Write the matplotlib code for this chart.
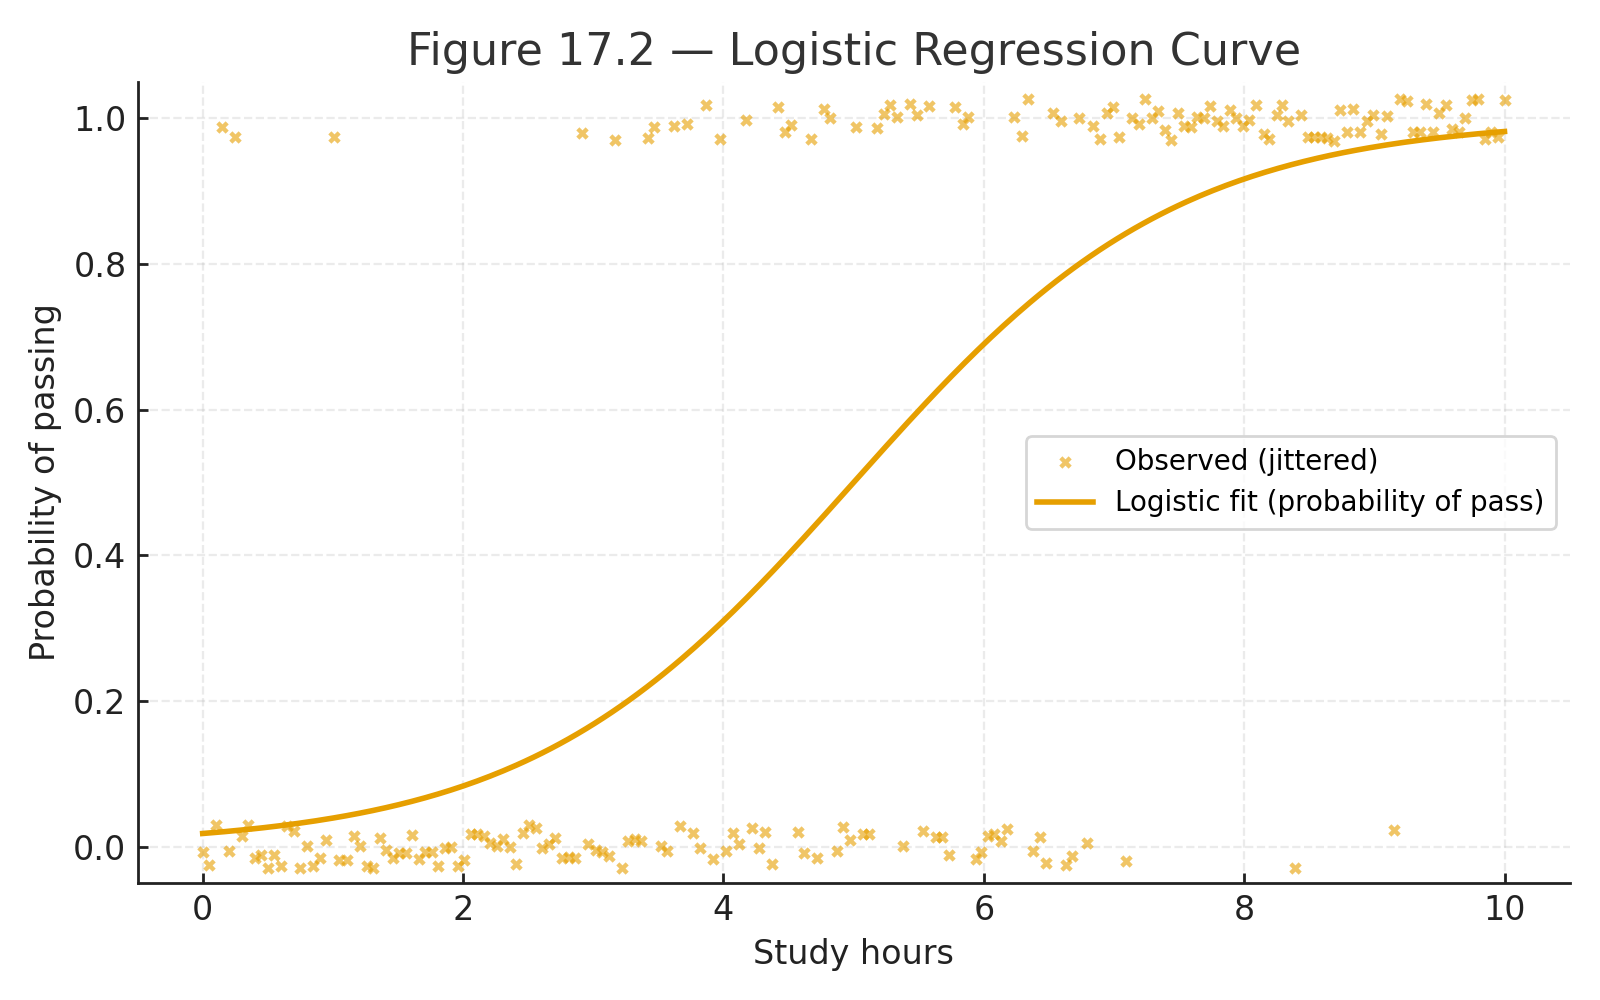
import numpy as np
import matplotlib
matplotlib.use("Agg")
import matplotlib.pyplot as plt

# ---- data ----
fail_x = [0.00, 0.05, 0.10, 0.20, 0.30, 0.35, 0.40, 0.45, 0.50, 0.55, 0.60, 0.65, 0.70, 0.75,
          0.80, 0.85, 0.90, 0.95, 1.05, 1.11, 1.16, 1.21, 1.26, 1.31, 1.36, 1.41, 1.46, 1.51,
          1.56, 1.61, 1.66, 1.71, 1.76, 1.81, 1.86, 1.91, 1.96, 2.01, 2.06, 2.11, 2.16, 2.21,
          2.26, 2.31, 2.36, 2.41, 2.46, 2.51,
          2.56, 2.61, 2.66, 2.71, 2.76, 2.81, 2.86, 2.96, 3.02, 3.07, 3.12, 3.22, 3.27, 3.32,
          3.37, 3.52, 3.57, 3.67, 3.77, 3.82, 3.92, 4.02, 4.07, 4.12, 4.22, 4.27, 4.32, 4.37,
          4.57, 4.62, 4.72, 4.87, 4.92, 4.97,
          5.07, 5.12, 5.38, 5.53, 5.63, 5.68, 5.73, 5.94, 5.98, 6.03, 6.08, 6.13, 6.18, 6.38,
          6.43, 6.48, 6.63, 6.68, 6.79, 7.09, 8.39, 9.15]
fail_y = [-0.007, -0.025, 0.030, -0.006, 0.015, 0.030, -0.016, -0.011, -0.030, -0.011, -0.026,
          0.028, 0.022, -0.030, 0.001, -0.027, -0.016, 0.009, -0.019, -0.019, 0.014, 0.001,
          -0.026, -0.030, 0.012, -0.004, -0.016, -0.009, -0.009, 0.016, -0.017, -0.007, -0.008,
          -0.027, -0.002, 0.000, -0.026, -0.019, 0.017, 0.017, 0.015, 0.005, 0.001, 0.011,
          -0.001, -0.024, 0.018, 0.030,
          0.025, -0.002, 0.004, 0.012, -0.016, -0.014, -0.016, 0.004, -0.004, -0.007, -0.013,
          -0.030, 0.008, 0.010, 0.008, 0.001, -0.006, 0.028, 0.018, -0.002, -0.017, -0.006,
          0.018, 0.004, 0.025, -0.002, 0.020, -0.024, 0.020, -0.009, -0.015, -0.006, 0.027,
          0.009,
          0.017, 0.017, 0.001, 0.022, 0.013, 0.013, -0.011, -0.017, -0.008, 0.015, 0.017,
          0.008, 0.024, -0.006, 0.013, -0.023, -0.025, -0.013, 0.005, -0.020, -0.030, 0.023]

pass_x = [0.15, 0.25, 1.01, 2.91, 3.17, 3.42, 3.47, 3.62, 3.72, 3.87, 3.97, 4.17, 4.42, 4.47,
          4.52, 4.67, 4.77, 4.82, 5.02,
          5.18, 5.23, 5.28, 5.33, 5.43, 5.49, 5.58, 5.78, 5.84, 5.88, 6.23, 6.29, 6.34, 6.53,
          6.59, 6.73, 6.84, 6.89, 6.95, 6.99, 7.04, 7.14, 7.19, 7.24, 7.29, 7.34, 7.39, 7.44,
          7.49, 7.54, 7.59,
          7.64, 7.69, 7.74, 7.79, 7.84, 7.89, 7.94, 7.99, 8.04, 8.09, 8.15, 8.19, 8.25, 8.29,
          8.34, 8.44, 8.49, 8.54, 8.59, 8.64, 8.69, 8.74, 8.79, 8.84, 8.89, 8.94, 8.99, 9.05,
          9.10, 9.20, 9.25, 9.30, 9.35, 9.40, 9.45, 9.50, 9.55, 9.60, 9.65, 9.70, 9.75, 9.80,
          9.85, 9.90, 9.95, 10.00]
pass_y = [0.988, 0.975, 0.975, 0.980, 0.971, 0.973, 0.988, 0.990, 0.993, 1.019, 0.972, 0.998,
          1.015, 0.981, 0.991, 0.972, 1.013, 1.000, 0.988,
          0.987, 1.006, 1.019, 1.002, 1.020, 1.005, 1.017, 1.015, 0.993, 1.002, 1.002, 0.976,
          1.027, 1.008, 0.997, 1.000, 0.990, 0.972, 1.008, 1.015, 0.975, 1.000, 0.993, 1.026,
          1.000, 1.010, 0.984, 0.970, 1.008, 0.990, 0.988,
          1.002, 1.000, 1.017, 0.996, 0.990, 1.012, 1.000, 0.989, 0.998, 1.019, 0.978, 0.972,
          1.004, 1.019, 0.996, 1.004, 0.974, 0.975, 0.975, 0.973, 0.969, 1.012, 0.981, 1.013,
          0.982, 0.996, 1.004, 0.978, 1.003, 1.027, 1.024, 0.982, 0.982, 1.020, 0.981, 1.007,
          1.019, 0.985, 0.982, 1.000, 1.025, 1.026, 0.972, 0.982, 0.974, 1.025]

# fitted logistic model coefficients
intercept = -4.0
slope = 0.8
hours_min, hours_max = 0.0, 10.0

title = "Figure 17.2 \u2014 Logistic Regression Curve"
xlabel = "Study hours"
ylabel = "Probability of passing"
xticks = [0, 2, 4, 6, 8, 10]
yticks = [0.0, 0.2, 0.4, 0.6, 0.8, 1.0]

orange = "#E69F00"

plt.rcParams['font.family'] = ['DejaVu Sans']
fig, ax = plt.subplots(figsize=(8, 5), dpi=200)
fig.subplots_adjust(left=0.086, right=0.981, top=0.918, bottom=0.117)

obs_x = np.array(fail_x + pass_x)
obs_y = np.array(fail_y + pass_y)
ax.scatter(obs_x, obs_y, marker='X', s=20, color=orange, alpha=0.6, linewidths=0,
           label="Observed (jittered)", zorder=2)

grid = np.linspace(hours_min, hours_max, 300)
prob = 1.0 / (1.0 + np.exp(-(intercept + slope * grid)))
ax.plot(grid, prob, color=orange, lw=2, label="Logistic fit (probability of pass)", zorder=3)

ax.set_ylim(-0.05, 1.05)
ax.set_title(title, fontsize=16, color='#333333')
ax.set_xlabel(xlabel, fontsize=12, color='#222222')
ax.set_ylabel(ylabel, fontsize=12, color='#222222')
ax.set_xticks(xticks)
ax.set_yticks(yticks)
ax.tick_params(labelsize=12, colors='#222222', direction='in', length=3.5, width=1.0, pad=4)
for s in ['top', 'right']:
    ax.spines[s].set_visible(False)
for s in ['left', 'bottom']:
    ax.spines[s].set_color('#222222')
    ax.spines[s].set_linewidth(1.0)
ax.grid(True, linestyle='--', linewidth=0.8, alpha=0.25)
ax.set_axisbelow(True)

leg = ax.legend(loc='center right', fontsize=10, frameon=True)
leg.get_frame().set_edgecolor('#cccccc')

fig.savefig("out.png", dpi=200)
